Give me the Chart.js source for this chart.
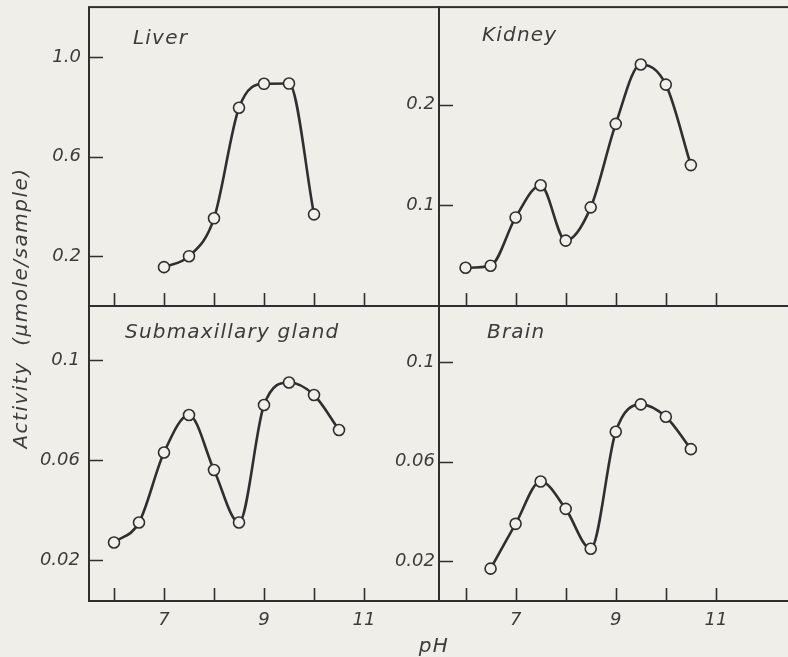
<!DOCTYPE html>
<html>
<head>
<meta charset="utf-8">
<title>Activity vs pH</title>
<script src="https://cdn.jsdelivr.net/npm/chart.js@4.4.1/dist/chart.umd.min.js"></script>
<style>
    html, body {
        margin: 0;
        padding: 0;
        background: #efeee8;
    }
    #figure {
        position: relative;
        width: 788px;
        height: 657px;
        overflow: hidden;
        background: #efeee8;
    }
    #figure canvas {
        position: absolute;
        left: 0;
        top: 0;
    }
</style>
</head>
<body>
<div id="figure">
    <canvas id="liverChart" width="800" height="657"></canvas>
    <canvas id="kidneyChart" width="800" height="657"></canvas>
    <canvas id="submaxChart" width="800" height="657"></canvas>
    <canvas id="brainChart" width="800" height="657"></canvas>
</div>
<script>
// pH values for each series
const phLiver = [7, 7.5, 8, 8.5, 9, 9.5, 10];
const phKidney = [6, 6.5, 7, 7.5, 8, 8.5, 9, 9.5, 10, 10.5];
const phSubmax = [6, 6.5, 7, 7.5, 8, 8.5, 9, 9.5, 10, 10.5];
const phBrain = [6.5, 7, 7.5, 8, 8.5, 9, 9.5, 10, 10.5];

// activity, umole/sample
const liverActivity = [0.156, 0.2, 0.352, 0.796, 0.892, 0.893, 0.368];
const kidneyActivity = [0.038, 0.04, 0.088, 0.12, 0.065, 0.098, 0.181, 0.24, 0.22, 0.14];
const submaxActivity = [0.027, 0.035, 0.063, 0.078, 0.056, 0.035, 0.082, 0.091, 0.086, 0.072];
const brainActivity = [0.017, 0.035, 0.052, 0.041, 0.025, 0.072, 0.083, 0.078, 0.065];

// axis ticks
const phTicks = [6, 7, 8, 9, 10, 11];
const phTickLabels = ["", "7", "", "9", "", "11"];
const liverTicks = [0.2, 0.6, 1.0];
const liverTickLabels = ["0.2", "0.6", "1.0"];
const kidneyTicks = [0.1, 0.2];
const kidneyTickLabels = ["0.1", "0.2"];
const smallTicks = [0.02, 0.06, 0.1];
const smallTickLabels = ["0.02", "0.06", "0.1"];

const INK = "#2f2f2f";
const TEXT = "#3c3c3c";
const PAPER = "#f1f0eb";
const FONT = "'DejaVu Sans', sans-serif";

Chart.defaults.font.family = FONT;
Chart.defaults.color = TEXT;

// box around each panel, inward tick marks and the panel name
const framePlugin = {
    id: "frame",
    afterDraw(chart, args, opts) {
        const { ctx, chartArea: a } = chart;
        const xScale = chart.scales.x;
        const yScale = chart.scales.y;

        ctx.save();
        ctx.strokeStyle = INK;
        ctx.lineWidth = 2;
        ctx.strokeRect(a.left, a.top, a.right - a.left, a.bottom - a.top);

        ctx.beginPath();
        xScale.ticks.forEach(t => {
            const x = Math.round(xScale.getPixelForValue(t.value)) + 0.5;
            ctx.moveTo(x, a.bottom);
            ctx.lineTo(x, a.bottom - 13);
        });
        yScale.ticks.forEach(t => {
            const y = Math.round(yScale.getPixelForValue(t.value)) + 0.5;
            ctx.moveTo(a.left, y);
            ctx.lineTo(a.left + 14, y);
        });
        ctx.lineWidth = 1.6;
        ctx.stroke();

        ctx.fillStyle = TEXT;
        ctx.font = "oblique 20px " + FONT;
        ctx.letterSpacing = "1.2px";
        ctx.textAlign = "left";
        ctx.textBaseline = "alphabetic";
        ctx.fillText(opts.name, a.left + opts.dx, a.top + opts.dy);

        if (opts.axisTitles) {
            ctx.letterSpacing = "1.5px";
            ctx.textAlign = "center";
            ctx.fillText("pH", 434, 652);

            ctx.translate(22, 308);
            ctx.rotate(-Math.PI / 2);
            ctx.textBaseline = "middle";
            ctx.fillText("Activity  (\u00b5mole/sample)", 0, 0);
        }
        ctx.restore();
    }
};

// fixed scale box sizes, no extra label overhang padding
function fixedFit(scale, size) {
    if (scale.isHorizontal()) {
        scale.height = size;
    } else {
        scale.width = size;
    }
    scale.paddingTop = 0;
    scale.paddingBottom = 0;
    scale.paddingLeft = 0;
    scale.paddingRight = 0;
}

function createPanel(canvasId, cfg) {
    const points = cfg.ph.map((ph, i) => ({ x: ph, y: cfg.values[i] }));

    return new Chart(document.getElementById(canvasId).getContext("2d"), {
        type: "line",
        data: {
            datasets: [{
                label: cfg.name,
                data: points,
                borderColor: INK,
                borderWidth: 2.6,
                cubicInterpolationMode: "monotone",
                pointRadius: 5.5,
                pointBorderWidth: 1.6,
                pointBackgroundColor: PAPER,
                pointBorderColor: INK
            }]
        },
        options: {
            responsive: false,
            animation: false,
            events: [],
            layout: { padding: cfg.padding },
            plugins: {
                legend: { display: false },
                tooltip: { enabled: false },
                frame: {
                    name: cfg.name,
                    dx: cfg.labelDx,
                    dy: cfg.labelDy,
                    axisTitles: cfg.axisTitles || false
                }
            },
            scales: {
                x: {
                    type: "linear",
                    min: cfg.xMin,
                    max: cfg.xMax,
                    afterBuildTicks: s => { s.ticks = phTicks.map(v => ({ value: v })); },
                    afterFit: s => fixedFit(s, cfg.xAxisHeight),
                    grid: { display: false, drawTicks: false },
                    border: { display: false },
                    ticks: {
                        display: cfg.xAxisHeight > 0,
                        autoSkip: false,
                        maxRotation: 0,
                        padding: 9,
                        font: { size: 18, style: "oblique" },
                        color: TEXT,
                        callback: (v, i) => phTickLabels[i]
                    }
                },
                y: {
                    type: "linear",
                    min: cfg.yMin,
                    max: cfg.yMax,
                    afterBuildTicks: s => { s.ticks = cfg.yTicks.map(v => ({ value: v })); },
                    afterFit: s => fixedFit(s, cfg.yAxisWidth),
                    grid: { display: false, drawTicks: false },
                    border: { display: false },
                    ticks: {
                        autoSkip: false,
                        padding: cfg.yPad,
                        font: { size: 18, style: "oblique" },
                        color: TEXT,
                        callback: (v, i) => cfg.yLabels[i]
                    }
                }
            }
        },
        plugins: [framePlugin]
    });
}

// left column spans 89..439, right column 439..791; rows 6..306 and 306..601
createPanel("liverChart", {
    name: "Liver",
    ph: phLiver,
    values: liverActivity,
    xMin: 5.5, xMax: 12.5,
    yMin: 0, yMax: 1.2,
    yTicks: liverTicks, yLabels: liverTickLabels,
    yAxisWidth: 80, xAxisHeight: 0, yPad: 8,
    padding: { left: 9, right: 361, top: 6, bottom: 351 },
    labelDx: 44, labelDy: 37
});

createPanel("kidneyChart", {
    name: "Kidney",
    ph: phKidney,
    values: kidneyActivity,
    xMin: 5.47, xMax: 12.5,
    yMin: 0, yMax: 0.297,
    yTicks: kidneyTicks, yLabels: kidneyTickLabels,
    yAxisWidth: 60, xAxisHeight: 0, yPad: 4,
    padding: { left: 379, right: 9, top: 6, bottom: 351 },
    labelDx: 43, labelDy: 34
});

createPanel("submaxChart", {
    name: "Submaxillary gland",
    ph: phSubmax,
    values: submaxActivity,
    xMin: 5.5, xMax: 12.5,
    yMin: 0.0036, yMax: 0.1216,
    yTicks: smallTicks, yLabels: smallTickLabels,
    yAxisWidth: 80, xAxisHeight: 50, yPad: 9,
    padding: { left: 9, right: 361, top: 306, bottom: 6 },
    labelDx: 36, labelDy: 32,
    axisTitles: true
});

createPanel("brainChart", {
    name: "Brain",
    ph: phBrain,
    values: brainActivity,
    xMin: 5.47, xMax: 12.5,
    yMin: 0.004, yMax: 0.1225,
    yTicks: smallTicks, yLabels: smallTickLabels,
    yAxisWidth: 60, xAxisHeight: 50, yPad: 4,
    padding: { left: 379, right: 9, top: 306, bottom: 6 },
    labelDx: 48, labelDy: 32
});
</script>
</body>
</html>
